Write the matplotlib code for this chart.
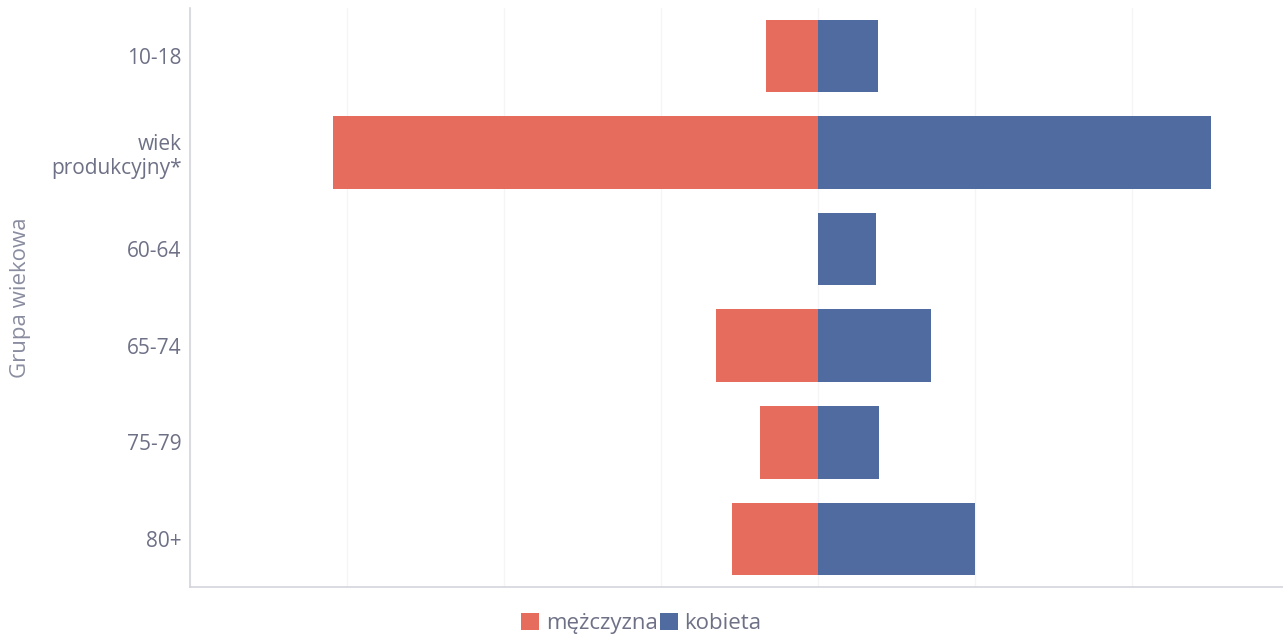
import numpy as np
import matplotlib
matplotlib.use('Agg')
import matplotlib.pyplot as plt
from matplotlib.patches import Patch

plt.rcParams['font.family'] = ['Open Sans', 'DejaVu Sans']

# age groups (top to bottom) and values per sex
groups = ['10-18', 'wiek\nprodukcyjny*', '60-64', '65-74', '75-79', '80+']
men = [3.3, 30.9, 0.0, 6.5, 3.7, 5.5]
women = [3.8, 25.0, 3.7, 7.2, 3.9, 10.0]
series_names = ['mężczyzna', 'kobieta']

red = '#e66d5e'
blue = '#4f6b9f'
txt = '#6e7186'

fig = plt.figure(figsize=(12.83, 6.41), dpi=100)
ax = fig.add_axes([0.148, 0.084, 0.852, 0.904])

y = np.arange(len(groups))
ax.barh(y, -np.array(men), height=0.75, color=red, zorder=3)
ax.barh(y, women, height=0.75, color=blue, zorder=3)

ax.set_xlim(-40, 29.6)
ax.set_ylim(len(groups) - 0.5, -0.5)
ax.set_xticks(np.arange(-40, 30, 10))
ax.set_xticklabels([])
ax.tick_params(axis='x', length=0)
ax.grid(axis='x', color='#f5f5f8', linewidth=1, zorder=0)

ax.set_yticks(y)
ax.set_yticklabels(groups, fontsize=15, color=txt, ha='right', multialignment='right')
ax.tick_params(axis='y', length=0, pad=6)

ax.set_ylabel('Grupa wiekowa', fontsize=16, color='#8a8da0', labelpad=14)

for s in ['top', 'right']:
    ax.spines[s].set_visible(False)
for s in ['left', 'bottom']:
    ax.spines[s].set_color('#d4d5dc')
    ax.spines[s].set_linewidth(1.2)

handles = [Patch(facecolor=red), Patch(facecolor=blue)]
fig.legend(handles, series_names, loc='lower center', bbox_to_anchor=(0.5, -0.02),
           ncol=2, frameon=False, fontsize=16, labelcolor=txt,
           handlelength=0.8, handleheight=0.8, handletextpad=0.3, columnspacing=0.1)

fig.savefig('out.png', dpi=100)
